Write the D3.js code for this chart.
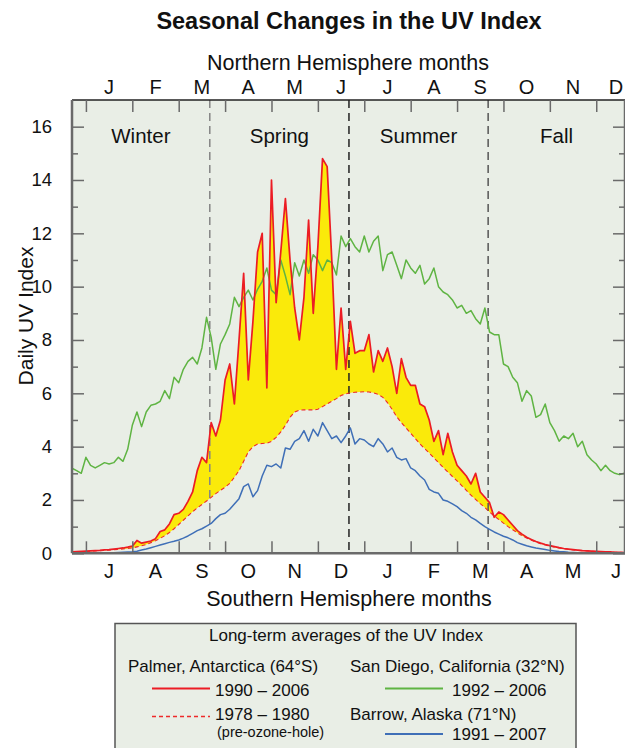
<!DOCTYPE html>
<html><head><meta charset="utf-8">
<script src="https://cdn.jsdelivr.net/npm/d3@7"></script>
<style>
html,body{margin:0;padding:0;background:#fff;}
svg text{font-family:"Liberation Sans",Arial,Helvetica,sans-serif;fill:#111;}
</style></head>
<body><svg id="chart" width="625" height="748"></svg>
<script>
// ---- data (x = months since 1 July, southern calendar; one sample every 0.1 month) ----
const sampleStart = -0.3, sampleStep = 0.1;
const palmerRecent = [0.05,0.06,0.07,0.08,0.09,0.1,0.11,0.13,0.14,0.16, 0.18,0.2,0.23,0.27,0.48,0.38,0.42,0.46,0.55,0.82, 0.88,1.1,1.45,1.5,1.65,1.95,2.3,3.1,3.6,3.4, 4.9,4.4,5.0,6.5,7.1,5.6,8.0,10.5,6.5,8.7, 11.3,12.0,6.2,14.0,9.4,11.3,13.3,11.0,9.2,8.0, 9.6,12.5,9.0,11.5,14.8,14.5,11.0,6.9,9.2,6.9, 8.7,7.5,7.6,7.6,8.2,6.8,7.6,7.2,7.7,7.0, 6.0,7.3,6.6,6.3,6.3,5.6,5.5,5.0,4.2,4.6, 3.7,4.5,3.8,3.3,3.1,2.9,2.6,3.0,2.3,2.1, 1.9,1.35,1.55,1.45,1.25,1.05,0.85,0.72,0.6,0.52, 0.44,0.38,0.33,0.29,0.25,0.21,0.18,0.16,0.14,0.12, 0.1,0.09,0.08,0.07,0.06,0.05,0.05,0.04,0.04,0.03];
const palmerPreHole = [0.05,0.05,0.06,0.07,0.08,0.09,0.1,0.11,0.12,0.13, 0.15,0.16,0.18,0.2,0.24,0.28,0.33,0.4,0.47,0.56, 0.66,0.78,0.92,1.08,1.24,1.4,1.56,1.7,1.83,1.96, 2.1,2.24,2.36,2.48,2.62,2.85,3.1,3.45,3.8,4.0, 4.1,4.12,4.13,4.2,4.35,4.55,4.8,5.1,5.3,5.37, 5.38,5.38,5.38,5.4,5.5,5.6,5.7,5.8,5.92,5.98, 6.02,6.04,6.05,6.06,6.05,6.02,5.96,5.85,5.65,5.4, 5.12,4.9,4.7,4.5,4.3,4.1,3.93,3.76,3.58,3.4, 3.22,3.05,2.88,2.72,2.54,2.36,2.18,2.02,1.86,1.72, 1.55,1.4,1.27,1.13,1.0,0.88,0.77,0.66,0.57,0.49, 0.42,0.36,0.31,0.27,0.23,0.2,0.17,0.15,0.13,0.11, 0.1,0.09,0.08,0.07,0.06,0.05,0.05,0.04,0.04,0.03];
const sanDiego = [3.19,3.1,3.0,3.6,3.3,3.2,3.3,3.4,3.35,3.4, 3.6,3.45,3.9,4.8,5.3,4.75,5.3,5.55,5.6,5.7, 6.1,5.8,6.6,6.4,6.9,7.2,7.35,7.1,7.7,8.85, 8.1,6.9,7.85,8.2,8.6,9.6,9.25,9.6,9.87,9.5, 9.9,10.2,10.7,9.87,9.7,11.0,10.4,9.7,10.9,10.4, 11.0,10.5,11.2,11.0,10.6,11.0,10.9,10.44,11.9,11.5, 11.8,11.5,11.3,11.9,11.3,11.7,11.9,10.6,11.2,11.3, 10.8,10.3,11.0,10.7,10.5,10.8,10.1,10.3,10.7,10.0, 9.8,9.7,9.5,9.2,9.3,9.0,9.1,8.8,8.6,9.2, 8.3,8.2,8.2,7.1,7.0,6.6,6.4,5.7,6.1,5.9, 5.1,5.2,5.6,4.9,4.6,4.2,4.4,4.3,4.5,4.0, 4.2,3.7,3.5,3.35,3.1,3.3,3.1,3.0,2.95,3.0];
const barrow = [null,null,null,null,null,null,null,0.0,0.01,0.02, 0.03,0.04,0.05,0.06,0.08,0.12,0.16,0.21,0.26,0.31, 0.36,0.41,0.45,0.5,0.57,0.65,0.75,0.85,0.92,1.02, 1.12,1.3,1.45,1.5,1.65,1.85,2.05,2.5,2.6,2.12, 2.35,2.9,3.3,3.25,3.35,3.2,3.95,3.9,4.2,4.3, 4.6,4.2,4.65,4.4,4.9,4.6,4.3,4.4,4.15,4.4, 4.7,4.1,4.3,4.25,4.1,4.0,4.3,4.1,3.8,3.95, 3.6,3.5,3.55,3.2,3.1,2.9,2.75,2.4,2.3,2.25, 2.0,1.95,1.85,1.75,1.6,1.5,1.35,1.25,1.12,1.0, 0.9,0.8,0.72,0.64,0.58,0.5,0.4,0.34,0.28,0.24, 0.2,0.17,0.14,0.11,0.09,0.07,0.06,0.04,0.03,0.02, 0.01,0.0,null,null,null,null,null,null,null,null];
const southMonths = ["J","A","S","O","N","D","J","F","M","A","M","J"];
const northMonths = ["J","F","M","A","M","J","J","A","S","O","N","D"];
const seasonNames = ["Winter","Spring","Summer","Fall"];
const seasonBounds = [-0.3, 2.67, 5.67, 8.67, 11.62]; // solstices / equinoxes in months
const yTicks = [0,2,4,6,8,10,12,14,16];

// ---- layout ----
const svg = d3.select("#chart");
const L = 72, R = 625, T = 100, B = 553.3;
const x = d3.scaleLinear().domain([-0.3, 11.62]).range([L, R]);
const y = d3.scaleLinear().domain([0, 17]).range([B, T]);
const xs = d3.range(palmerRecent.length).map(i => sampleStart + i * sampleStep);

const bg = "#e9eee6", axisCol = "#6a6a6a";

svg.append("rect").attr("x", L).attr("y", T).attr("width", R - L).attr("height", B - T).attr("fill", bg);

// titles
svg.append("text").attr("x", 349).attr("y", 29).attr("text-anchor", "middle")
  .style("font-weight", "bold").style("font-size", "23.5px").text("Seasonal Changes in the UV Index");
svg.append("text").attr("x", 348).attr("y", 70).attr("text-anchor", "middle")
  .style("font-size", "21.5px").text("Northern Hemisphere months");
svg.append("text").attr("x", 349).attr("y", 606).attr("text-anchor", "middle")
  .style("font-size", "21.5px").text("Southern Hemisphere months");
svg.append("text").attr("transform", "translate(33,316) rotate(-90)").attr("text-anchor", "middle")
  .style("font-size", "21px").text("Daily UV Index");

// yellow fill between pre-hole and recent
const fillData = xs.map((m, i) => ({m, lo: palmerPreHole[i], hi: Math.max(palmerRecent[i], palmerPreHole[i])}));
svg.append("path").datum(fillData)
  .attr("d", d3.area().x(d => x(d.m)).y0(d => y(d.lo)).y1(d => y(d.hi)))
  .attr("fill", "#faea0a");

// season dividers
const divColors = ["#858585", "#222", "#555"];
[1,2,3].forEach((k, j) => {
  svg.append("line").attr("x1", x(seasonBounds[k])).attr("x2", x(seasonBounds[k]))
    .attr("y1", T).attr("y2", B).attr("stroke", divColors[j]).attr("stroke-width", 1.5)
    .attr("stroke-dasharray", "8,5");
});

// season labels
seasonNames.forEach((s, k) => {
  svg.append("text").attr("x", x((seasonBounds[k] + seasonBounds[k + 1]) / 2)).attr("y", 143)
    .attr("text-anchor", "middle").style("font-size", "20.5px").text(s);
});

const line = d3.line().defined(d => d.v != null).x(d => x(d.m)).y(d => y(d.v));
const mk = arr => xs.map((m, i) => ({m, v: arr[i]}));

svg.append("path").datum(mk(sanDiego)).attr("d", line).attr("fill", "none")
  .attr("stroke", "#5fb443").attr("stroke-width", 1.5).attr("stroke-linejoin", "round");
svg.append("path").datum(mk(barrow)).attr("d", line).attr("fill", "none")
  .attr("stroke", "#3f6fb7").attr("stroke-width", 1.5).attr("stroke-linejoin", "round");
svg.append("path").datum(mk(palmerPreHole)).attr("d", line).attr("fill", "none")
  .attr("stroke", "#ee2a2a").attr("stroke-width", 1.1).attr("stroke-dasharray", "4,3");
svg.append("path").datum(mk(palmerRecent)).attr("d", line).attr("fill", "none")
  .attr("stroke", "#ec1c24").attr("stroke-width", 1.7).attr("stroke-linejoin", "round");

// frame
svg.append("line").attr("x1", L).attr("x2", R).attr("y1", T).attr("y2", T).attr("stroke", "#222").attr("stroke-width", 1.5);
svg.append("line").attr("x1", L).attr("x2", R).attr("y1", B).attr("y2", B).attr("stroke", axisCol).attr("stroke-width", 2.5);
svg.append("line").attr("x1", L).attr("x2", L).attr("y1", T).attr("y2", B).attr("stroke", axisCol).attr("stroke-width", 2.5);
svg.append("line").attr("x1", R).attr("x2", R).attr("y1", T).attr("y2", B).attr("stroke", axisCol).attr("stroke-width", 2.5);

// month ticks (top and bottom), inward
const monthTicks = d3.range(12);
const bottomAxis = d3.axisBottom(x).tickValues(monthTicks).tickSize(-12).tickFormat("");
const topAxis = d3.axisTop(x).tickValues(monthTicks).tickSize(-12).tickFormat("");
const gb = svg.append("g").attr("transform", `translate(0,${B})`).call(bottomAxis);
const gt = svg.append("g").attr("transform", `translate(0,${T})`).call(topAxis);
[gb, gt].forEach(g => { g.select(".domain").remove(); g.selectAll("line").attr("stroke", axisCol).attr("stroke-width", 1.5); });

const labelX = k => Math.min(x(k + 0.5), R - 9);
southMonths.forEach((mname, k) => {
  svg.append("text").attr("x", labelX(k)).attr("y", 578).attr("text-anchor", "middle").style("font-size", "20px").text(mname);
});
northMonths.forEach((mname, k) => {
  svg.append("text").attr("x", labelX(k)).attr("y", 94).attr("text-anchor", "middle").style("font-size", "20px").text(mname);
});

// y axis ticks
const gl = svg.append("g").attr("transform", `translate(${L},0)`)
  .call(d3.axisLeft(y).tickValues(yTicks).tickSize(-12).tickPadding(20).tickFormat(d3.format("d")));
gl.select(".domain").remove();
gl.selectAll("line").attr("stroke", axisCol).attr("stroke-width", 1.5);
gl.selectAll("text").style("font-size", "18.5px").attr("fill", "#111");
const glm = svg.append("g").attr("transform", `translate(${L},0)`)
  .call(d3.axisLeft(y).tickValues(d3.range(1, 17, 2)).tickSize(-6).tickFormat(""));
glm.select(".domain").remove(); glm.selectAll("line").attr("stroke", axisCol).attr("stroke-width", 1.5);
const gr = svg.append("g").attr("transform", `translate(${R},0)`)
  .call(d3.axisRight(y).tickValues(yTicks).tickSize(-12).tickFormat(""));
gr.select(".domain").remove(); gr.selectAll("line").attr("stroke", axisCol).attr("stroke-width", 1.5);
const grm = svg.append("g").attr("transform", `translate(${R},0)`)
  .call(d3.axisRight(y).tickValues(d3.range(1, 17, 2)).tickSize(-6).tickFormat(""));
grm.select(".domain").remove(); grm.selectAll("line").attr("stroke", axisCol).attr("stroke-width", 1.5);

// legend
const lg = svg.append("g");
lg.append("rect").attr("x", 115).attr("y", 623.5).attr("width", 461).attr("height", 140)
  .attr("fill", bg).attr("stroke", "#555").attr("stroke-width", 1.5);
const lt = (tx, ty, s, size, anchor) => lg.append("text").attr("x", tx).attr("y", ty)
  .attr("text-anchor", anchor || "start").style("font-size", (size || 17) + "px").text(s);
lt(346, 641, "Long-term averages of the UV Index", 17, "middle");
lt(128, 672, "Palmer, Antarctica (64°S)");
lt(350, 672, "San Diego, California (32°N)");
lt(215, 696, "1990 – 2006");
lt(452, 696, "1992 – 2006");
lt(215, 720, "1978 – 1980");
lt(217, 737, "(pre-ozone-hole)", 14.5);
lt(350, 720, "Barrow, Alaska (71°N)");
lt(452, 740, "1991 – 2007");
const ls = (x1, x2, yy, col, dash, w) => lg.append("line").attr("x1", x1).attr("x2", x2).attr("y1", yy).attr("y2", yy)
  .attr("stroke", col).attr("stroke-width", w || 1.8).attr("stroke-dasharray", dash || null);
ls(152, 210, 688.5, "#ec1c24");
ls(152, 210, 716.5, "#ee2a2a", "4,3", 1.3);
ls(385, 443, 688.5, "#5fb443");
ls(385, 443, 734, "#3f6fb7");
</script></body></html>
